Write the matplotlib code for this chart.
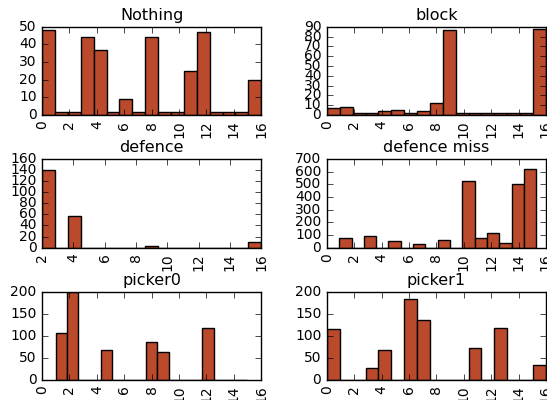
import numpy as np
import matplotlib
matplotlib.use("Agg")
from matplotlib import pyplot as plt

plt.style.use("classic")

titles = ["Nothing", "block", "defence", "defence miss", "picker0", "picker1"]

# bin ranges (17 bins each)
ranges = [(0, 16), (0, 16), (2, 16), (0, 15.3), (1, 15), (0, 16)]

nothing = [48, 2, 2, 44, 37, 2, 9, 2, 44, 2, 2, 25, 47, 2, 2, 2, 20]
block = [7, 8, 2, 2, 4, 5, 2, 4, 12, 87, 2, 2, 2, 2, 2, 2, 88]
defence = [141, 0, 58, 0, 0, 0, 0, 0, 2, 0, 0, 0, 0, 0, 0, 0, 10]
defence_miss = [0, 73, 0, 95, 0, 52, 0, 26, 0, 58, 0, 525, 73, 118, 39, 502, 625]
picker0 = [106, 200, 0, 0, 67, 0, 0, 0, 85, 63, 1, 0, 0, 118, 0, 0, 1]
picker1 = [115, 0, 0, 28, 67, 0, 184, 136, 0, 0, 0, 73, 0, 118, 1, 0, 34]

counts = [nothing, block, defence, defence_miss, picker0, picker1]
xlims = [(0, 16), (0, 16), (2, 16), (0, 16), (0, 16), (0, 16)]
ylims = [(0, 50), (0, 90), (0, 160), (0, 700), (0, 200), (0, 200)]
ysteps = [10, 10, 20, 100, 50, 50]

fig, axes = plt.subplots(3, 2, figsize=(5.47, 4.0), dpi=100)
fig.patch.set_facecolor("white")
plt.subplots_adjust(left=0.077, right=0.998, bottom=0.05, top=0.933,
                    wspace=0.30, hspace=0.5)

for ax, title, rng, c, xl, yl, ys in zip(axes.flat, titles, ranges, counts,
                                         xlims, ylims, ysteps):
    edges = np.linspace(rng[0], rng[1], len(c) + 1)
    ax.hist(edges[:-1], bins=edges, weights=c, color="#bb4a2c",
            edgecolor="black", linewidth=1.0)
    ax.set_title(title, fontsize=11.5)
    ax.set_xlim(*xl)
    ax.set_ylim(*yl)
    ax.set_xticks(np.arange(xl[0], xl[1] + 1, 2))
    ax.set_yticks(np.arange(yl[0], yl[1] + 1, ys))
    ax.tick_params(labelsize=10)
    for lab in ax.get_xticklabels():
        lab.set_rotation(90)

fig.savefig("out.png", dpi=100, facecolor="white")
